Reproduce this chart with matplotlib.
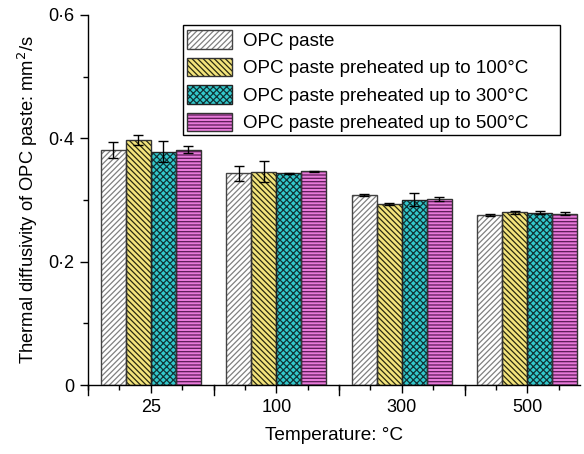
import matplotlib
matplotlib.use("Agg")
import matplotlib.pyplot as plt
import numpy as np
from matplotlib.patches import Patch, Rectangle
from matplotlib.legend_handler import HandlerTuple
from matplotlib.ticker import MultipleLocator

plt.rcParams['font.family'] = ['Liberation Sans', 'DejaVu Sans']
plt.rcParams['hatch.linewidth'] = 0.9

categories = ['25', '100', '300', '500']
series_names = ['OPC paste', 'OPC paste preheated up to 100°C',
                'OPC paste preheated up to 300°C', 'OPC paste preheated up to 500°C']
values = [
    [0.381, 0.343, 0.308, 0.276],
    [0.397, 0.346, 0.2935, 0.280],
    [0.378, 0.343, 0.3005, 0.2795],
    [0.3815, 0.3465, 0.3016, 0.278],
]
errors = [
    [0.0135, 0.0125, 0.0015, 0.0015],
    [0.0076, 0.0167, 0.0012, 0.0025],
    [0.017, 0.0012, 0.011, 0.0025],
    [0.0054, 0.0012, 0.0025, 0.0025],
]
ytick_vals = [0, 0.2, 0.4, 0.6]
ytick_labels = ['0', '0·2', '0·4', '0·6']

fills = ['white', '#f3e47c', '#33c8cc', '#e87ada']
hatch_cols = ['#808080', '#2a2a10', '#103436', '#5a1a55']
edge_cols = ['#444444', '#333333', '#222222', '#333333']
hatches = ['//////', '\\\\\\\\\\\\', 'xxxxx', '-----']

fig = plt.figure(figsize=(5.84, 4.54), dpi=100)
ax = fig.add_axes([88/584, 1-385/454, (580-88)/584, (385-15)/454])

x = np.arange(len(categories))
w = 0.2
offsets = [-0.3, -0.1, 0.1, 0.3]
handles = []
for i in range(4):
    ax.bar(x + offsets[i], values[i], w, color=fills[i], hatch=hatches[i],
           edgecolor=hatch_cols[i], linewidth=0, zorder=2)
    ax.bar(x + offsets[i], values[i], w, fill=False,
           edgecolor=edge_cols[i], linewidth=1.0, zorder=3)
    ax.errorbar(x + offsets[i], values[i], yerr=errors[i], fmt='none',
                ecolor='black', elinewidth=1.0, capsize=3.5, capthick=1.0, zorder=4)
    p1 = Patch(facecolor=fills[i], hatch=hatches[i], edgecolor=hatch_cols[i], linewidth=0)
    p2 = Patch(fill=False, edgecolor=edge_cols[i], linewidth=1.0)
    handles.append((p1, p2))

ax.set_xlim(-0.5, 3.42)
ax.set_ylim(0, 0.6)
ax.set_xticks(x)
ax.set_xticklabels(categories, fontsize=13)
ax.xaxis.set_minor_locator(MultipleLocator(0.25))
ax.set_yticks(ytick_vals)
ax.set_yticklabels(ytick_labels, fontsize=13)
ax.yaxis.set_minor_locator(MultipleLocator(0.1))
ax.tick_params(axis='both', which='major', direction='out', length=6, width=1, pad=4)
ax.tick_params(axis='both', which='minor', direction='out', length=3.5, width=1)

# longer ticks at the half positions on x
for xv in [-0.5, 0.5, 1.5, 2.5]:
    ax.plot([xv, xv], [0, -0.016], color='black', lw=1, clip_on=False, zorder=5)

for s in ['top', 'right']:
    ax.spines[s].set_visible(False)
for s in ['left', 'bottom']:
    ax.spines[s].set_linewidth(1.0)

ax.set_xlabel('Temperature: °C', fontsize=13.7, labelpad=8)
ax.set_ylabel('Thermal diffusivity of OPC paste: mm$^2$/s', fontsize=13.2, labelpad=6)

leg = ax.legend(handles, series_names, handler_map={tuple: HandlerTuple(ndivide=1, pad=0)},
                loc='upper left', bbox_to_anchor=((193-88)/492 - 0.012, (385-30)/370),
                fontsize=13.5, frameon=False,
                handlelength=2.4, handleheight=1.15, labelspacing=0.42,
                handletextpad=0.6, borderpad=0.0, borderaxespad=0)
leg.set_zorder(6)
# legend frame, wider than its content as in the reference
ax.add_patch(Rectangle((183/584, 1-135/454), (560-183)/584, (135-25)/454,
                       transform=fig.transFigure, facecolor='white', edgecolor='black',
                       linewidth=1.0, zorder=5, clip_on=False))

fig.savefig('out.png', dpi=100)
